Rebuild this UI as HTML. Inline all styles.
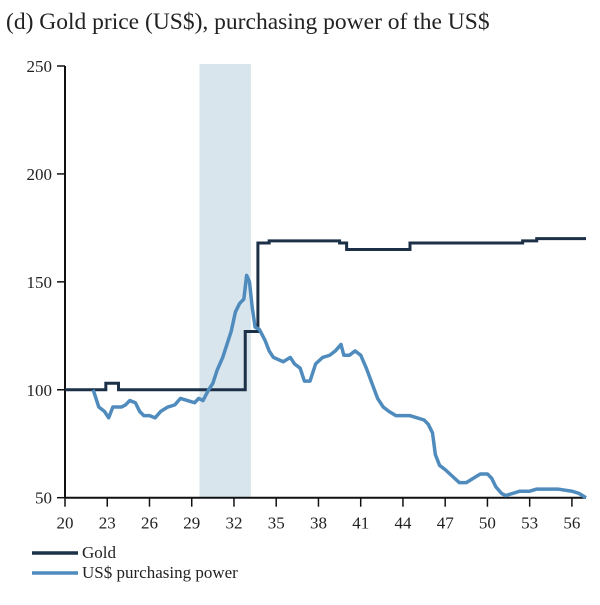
<!DOCTYPE html>
<html><head><meta charset="utf-8"><style>
body{margin:0;background:#fff}
svg text{font-family:"Liberation Serif",serif;fill:#222}
</style></head><body>
<svg width="600" height="600">
<text x="6" y="29" font-size="23.5">(d) Gold price (US$), purchasing power of the US$</text>
<g id="plot"></g>
</svg>
<script>
const yTicks=[50,100,150,200,250];
const xTicks=[20,23,26,29,32,35,38,41,44,47,50,53,56];
const shade=[29.55,33.2];
const goldYears=[20,22.9,23.8,32.8,33.7,34.5,39.5,40.0,44.5,52.5,53.5,57];
const goldValues=[100,103,100,127,168,169,168,165,168,169,170,170];
const ppYears=[22.0,22.4,22.8,23.1,23.4,24.0,24.3,24.6,25.0,25.3,25.6,26.0,26.4,26.8,27.3,27.8,28.2,28.7,29.2,29.5,29.8,30.2,30.5,30.8,31.2,31.5,31.8,32.1,32.4,32.7,32.9,33.1,33.3,33.5,33.8,34.2,34.5,34.8,35.5,36.0,36.3,36.7,37.0,37.4,37.8,38.3,38.8,39.2,39.6,39.8,40.2,40.6,41.0,41.4,41.8,42.2,42.6,43.0,43.5,44.0,44.5,45.0,45.5,45.8,46.1,46.3,46.6,47.0,47.5,48.0,48.5,49.0,49.5,50.0,50.3,50.6,51.0,51.3,51.8,52.3,53.0,53.5,55.0,56.0,56.5,57.0];
const ppValues=[100,92,90,87,92,92,93,95,94,90,88,88,87,90,92,93,96,95,94,96,95,100,103,109,115,121,127,136,140,142,153,150,138,129,128,123,118,115,113,115,112,110,104,104,112,115,116,118,121,116,116,118,116,110,103,96,92,90,88,88,88,87,86,84,80,70,65,63,60,57,57,59,61,61,59,55,52,51,52,53,53,54,54,53,52,50];
const NS='http://www.w3.org/2000/svg';
const X0=65,X1=586,Y0=497.7,Y1=66;
const xs=v=>X0+(v-20)*(X1-X0)/37;
const ys=v=>Y0-(v-50)*(Y0-Y1)/200;
const g=document.getElementById('plot');
function mk(t,a){const e=document.createElementNS(NS,t);for(const k in a)e.setAttribute(k,a[k]);g.appendChild(e);return e;}
const sh=mk('rect',{x:xs(shade[0]),y:Y1-2,width:xs(shade[1])-xs(shade[0]),height:Y0-Y1+2,fill:'#d8e5ec'});


const ya=mk('line',{x1:X0,y1:Y1,x2:X0,y2:Y0,stroke:'#111','stroke-width':2});


yTicks.forEach(v=>{
 mk('line',{x1:X0-8,x2:X0,y1:ys(v),y2:ys(v),stroke:'#111','stroke-width':1.5});
 const t=mk('text',{x:X0-13,y:ys(v)+6,'text-anchor':'end','font-size':17});t.textContent=v;
 
 
});
const xa=mk('line',{x1:X0,y1:Y0,x2:X1,y2:Y0,stroke:'#111','stroke-width':2});


xTicks.forEach(v=>{
 mk('line',{x1:xs(v),x2:xs(v),y1:Y0,y2:Y0+9,stroke:'#111','stroke-width':1.5});
 const t=mk('text',{x:xs(v),y:Y0+31,'text-anchor':'middle','font-size':17});t.textContent=v;
 
 
});
let d='M'+xs(goldYears[0])+','+ys(goldValues[0]);
for(let i=1;i<goldYears.length;i++){d+=' H'+xs(goldYears[i])+' V'+ys(goldValues[i]);}
const gl=mk('path',{d:d,fill:'none',stroke:'#1c3048','stroke-width':3});


const pd=ppYears.map((y,i)=>(i?'L':'M')+xs(y)+','+ys(ppValues[i])).join(' ');
const pl=mk('path',{d:pd,fill:'none',stroke:'#4f8bbd','stroke-width':3.5,'stroke-linejoin':'round'});


const l1=mk('line',{x1:32,x2:78,y1:553,y2:553,stroke:'#1c3048','stroke-width':3.5});


const t1=mk('text',{x:82,y:558,'font-size':17});t1.textContent='Gold';


const l2=mk('line',{x1:32,x2:78,y1:573,y2:573,stroke:'#4f8bbd','stroke-width':3.5});


const t2=mk('text',{x:82,y:578,'font-size':17});t2.textContent='US$ purchasing power';


</script>
</body></html>
